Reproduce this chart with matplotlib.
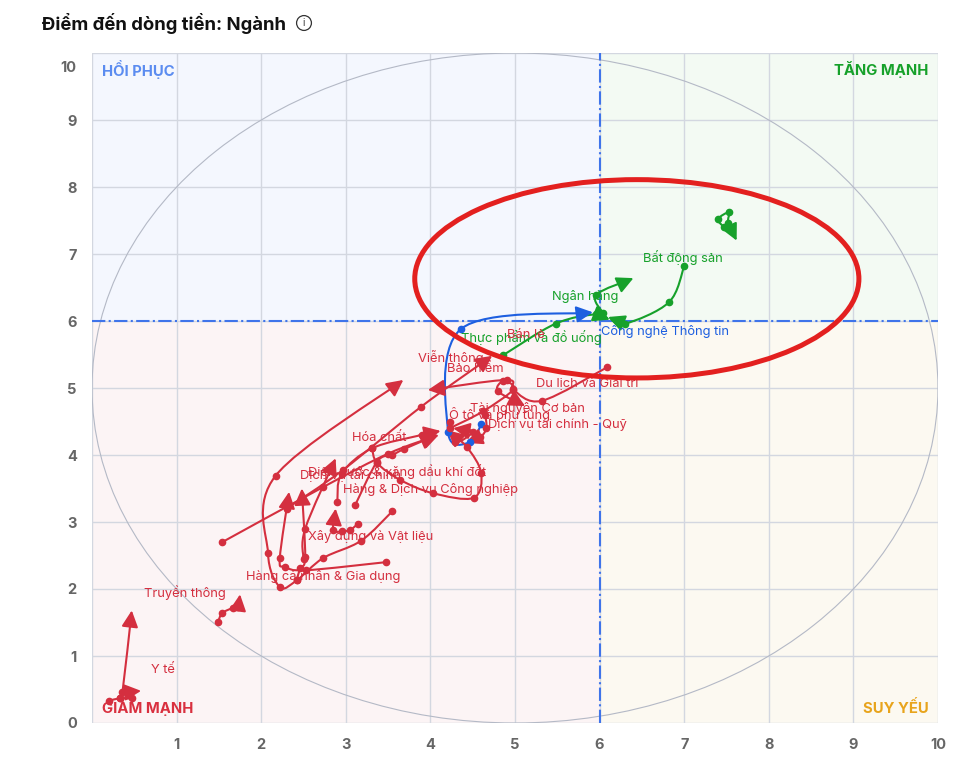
import numpy as np
import matplotlib
matplotlib.use("Agg")
from matplotlib import pyplot as plt
from matplotlib.patches import Ellipse, Rectangle, FancyArrowPatch
from matplotlib.path import Path
from matplotlib import transforms

plt.rcParams['font.family'] = ['Inter', 'DejaVu Sans']

#
# Data
#
RED = '#d42f3f'
GREEN = '#17a12b'
BLUE = '#1d5fe0'

# trails: x values, y values, colour (last point gets the arrow head)
trail_x = [
    [7.00, 6.82, 6.30, 6.10],                      # Bat dong san
    [6.04, 5.96, 6.40],                            # Ngan hang
    [4.86, 5.48, 5.96, 6.12],                      # Thuc pham va do uong
    [7.47, 7.40, 7.53, 7.52, 7.62],                # (unlabelled)
    [4.60, 4.47, 4.21, 4.36, 5.92],                # Cong nghe Thong tin
    [0.33, 0.36, 0.47],                            # Y te
    [0.20, 0.33, 0.47, 0.42, 0.58],
    [1.49, 1.54, 1.67, 1.73, 1.75],                # Truyen thong
    [1.54, 2.73, 3.50, 4.10],                      # Dich vu tai chinh
    [3.55, 3.18, 2.73, 2.42, 2.22, 2.08, 2.17, 3.68],
    [3.47, 2.53, 2.28, 2.22, 2.33],                # Hang ca nhan & Gia dung
    [2.42, 2.46, 2.52, 2.48],
    [2.50, 2.52, 2.88],
    [3.14, 3.05, 2.95, 2.85, 2.88],                # Xay dung va Vat lieu
    [2.90, 2.95, 3.31, 3.90, 4.12],                # Hoa chat
    [3.11, 3.37, 3.55, 3.69, 4.08],                # Dien nuoc
    [3.31, 3.37, 3.64, 4.03, 4.51, 4.60, 4.43, 4.20],  # Hang & DV Cong nghiep
    [2.30, 2.97, 3.89, 4.73],                      # Vien thong
    [6.09, 5.32, 4.98, 4.90, 3.97],                # Du lich va Giai tri
    [4.23, 4.62, 4.98, 4.86, 4.80, 5.12],          # Tai nguyen Co ban
    [4.23, 4.29, 4.50, 4.27],                      # O to va phu tung
    [4.65, 4.66, 4.59, 4.42],                      # Dich vu tai chinh - Quy
]
trail_y = [
    [6.82, 6.28, 5.96, 6.06],
    [6.12, 6.39, 6.64],
    [5.49, 5.96, 6.10, 6.02],
    [7.40, 7.52, 7.62, 7.46, 7.20],
    [4.46, 4.19, 4.34, 5.88, 6.13],
    [0.38, 0.46, 1.68],
    [0.33, 0.37, 0.37, 0.46, 0.48],
    [1.51, 1.64, 1.72, 1.73, 1.92],
    [2.70, 3.52, 4.02, 4.30],
    [3.16, 2.72, 2.46, 2.13, 2.03, 2.54, 3.69, 5.12],
    [2.40, 2.28, 2.33, 2.46, 3.45],
    [2.13, 2.31, 2.48, 3.50],
    [2.45, 2.90, 3.95],
    [2.97, 2.88, 2.86, 2.88, 3.20],
    [3.30, 3.72, 4.10, 4.30, 4.36],
    [3.25, 3.90, 4.00, 4.09, 4.30],
    [4.10, 3.88, 3.63, 3.43, 3.36, 3.73, 4.12, 4.37],
    [3.20, 3.78, 4.72, 5.48],
    [5.31, 4.81, 4.97, 5.12, 4.97],
    [4.40, 4.65, 4.98, 5.10, 4.95, 4.73],
    [4.49, 4.19, 4.35, 4.40],
    [4.60, 4.40, 4.27, 4.18],
]
trail_color = [GREEN, GREEN, GREEN, GREEN, BLUE] + [RED] * 17

label_text = ['Bất động sản', 'Ngân hàng', 'Thực phẩm và đồ uống', 'Công nghệ Thông tin',
              'Viễn thông', 'Bảo hiểm', 'Bán lẻ', 'Du lịch và Giải trí', 'Tài nguyên Cơ bản',
              'Ô tô và phụ tùng', 'Dịch vụ tài chính - Quỹ', 'Hóa chất',
              'Điện nước & xăng dầu khí đốt', 'Dịch vụ tài chính', 'Hàng & Dịch vụ Công nghiệp',
              'Xây dựng và Vật liệu', 'Hàng cá nhân & Gia dụng', 'Truyền thông', 'Y tế']
label_x = [6.99, 5.83, 5.19, 6.77, 4.24, 4.53, 5.13, 5.85, 5.15, 4.82, 5.50, 3.40,
           3.61, 3.05, 4.00, 3.29, 2.73, 1.10, 0.84]
label_y = [6.95, 6.36, 5.75, 5.85, 5.46, 5.28, 5.79, 5.06, 4.70, 4.60, 4.46, 4.25,
           3.75, 3.70, 3.49, 2.79, 2.19, 1.94, 0.79]
label_color = [GREEN, GREEN, GREEN, BLUE] + [RED] * 15

quad_text = ['HỒI PHỤC', 'TĂNG MẠNH', 'GIẢM MẠNH', 'SUY YẾU']
quad_color = ['#5b8cf0', '#16a12a', '#d9303f', '#e8a41c']

ticks = np.arange(0, 11)


def smooth_path(xs, ys):
    # Catmull-Rom through the points, written as cubic Bezier segments
    p = np.column_stack([xs, ys]).astype(float)
    n = len(p)
    verts = [p[0]]
    codes = [Path.MOVETO]
    for i in range(n - 1):
        p0 = p[i - 1] if i > 0 else p[i]
        p3 = p[i + 2] if i + 2 < n else p[i + 1]
        c1 = p[i] + (p[i + 1] - p0) / 6.0
        c2 = p[i + 1] - (p3 - p[i]) / 6.0
        verts += [c1, c2, p[i + 1]]
        codes += [Path.CURVE4] * 3
    return Path(verts, codes)


fig = plt.figure(figsize=(9.64, 7.70), dpi=100)
ax = fig.add_axes([92 / 964, 47 / 770, 846 / 964, 670 / 770])

# quadrant backgrounds
ax.add_patch(Rectangle((0, 6), 6, 4, fc='#f4f7fe', ec='none', zorder=0))
ax.add_patch(Rectangle((6, 6), 4, 4, fc='#f3faf3', ec='none', zorder=0))
ax.add_patch(Rectangle((0, 0), 6, 6, fc='#fcf4f5', ec='none', zorder=0))
ax.add_patch(Rectangle((6, 0), 4, 6, fc='#fcf9f1', ec='none', zorder=0))

ax.set_xlim(0, 10)
ax.set_ylim(0, 10)
ax.set_xticks(ticks)
ax.set_yticks(ticks)
ax.set_xticklabels([''] + [str(t) for t in ticks[1:]])
ax.grid(True, color='#d3d7e0', lw=1.0, zorder=1)
ax.set_axisbelow(True)
for s in ax.spines.values():
    s.set_visible(False)
ax.tick_params(length=0, labelsize=10.5, labelcolor='#666666', pad=11)
for lab in ax.get_xticklabels() + ax.get_yticklabels():
    lab.set_fontweight('bold')
top_lab = ax.get_yticklabels()[-1]
top_lab.set_transform(top_lab.get_transform() +
                      transforms.ScaledTranslation(0, -10 / 72, fig.dpi_scale_trans))

# reference circle
ax.add_patch(Ellipse((5, 5), 10, 10, fc='none', ec='#b4b9c6', lw=0.8, zorder=2))

# quadrant dividers
ax.axvline(6, color='#3f74ea', lw=1.5, ls='-.', zorder=2)
ax.axhline(6, color='#3f74ea', lw=1.5, ls='-.', zorder=2)

# quadrant names
qkw = dict(fontsize=10.7, fontweight='bold', xycoords='axes fraction',
           textcoords='offset points')
ax.annotate(quad_text[0], (0, 1), xytext=(7, -12), ha='left', va='center',
            color=quad_color[0], **qkw)
ax.annotate(quad_text[1], (1, 1), xytext=(-7, -12), ha='right', va='center',
            color=quad_color[1], **qkw)
ax.annotate(quad_text[2], (0, 0), xytext=(7, 11), ha='left', va='center',
            color=quad_color[2], **qkw)
ax.annotate(quad_text[3], (1, 0), xytext=(-7, 11), ha='right', va='center',
            color=quad_color[3], **qkw)

# trails
for xs, ys, c in zip(trail_x, trail_y, trail_color):
    arr = FancyArrowPatch(path=smooth_path(xs, ys),
                          arrowstyle='-|>,head_length=1.0,head_width=0.5',
                          mutation_scale=10, color=c, lw=1.5,
                          shrinkA=0, shrinkB=0, zorder=4)
    ax.add_patch(arr)
    ax.plot(xs[:-1], ys[:-1], 'o', color=c, ms=4.5, zorder=5)

# sector names
for t, x, y, c in zip(label_text, label_x, label_y, label_color):
    ax.text(x, y, t, color=c, fontsize=9.3, ha='center', va='center', zorder=6)

# hand drawn highlight
ax.add_patch(Ellipse((6.44, 6.63), 5.25, 2.96, fc='none', ec='#e3201f', lw=3.6, zorder=7))

# title
fig.text(42 / 964, 1 - 23 / 770, 'Điểm đến dòng tiền: Ngành', fontsize=13.3,
         fontweight='bold', color='#111111', va='center', ha='left')
fig.text(304 / 964, 1 - 23 / 770, 'i', fontsize=7, color='#333333', va='center',
         ha='center', bbox=dict(boxstyle='circle,pad=0.25', fc='white', ec='#333333', lw=0.9))

fig.savefig('out.png', dpi=100)
